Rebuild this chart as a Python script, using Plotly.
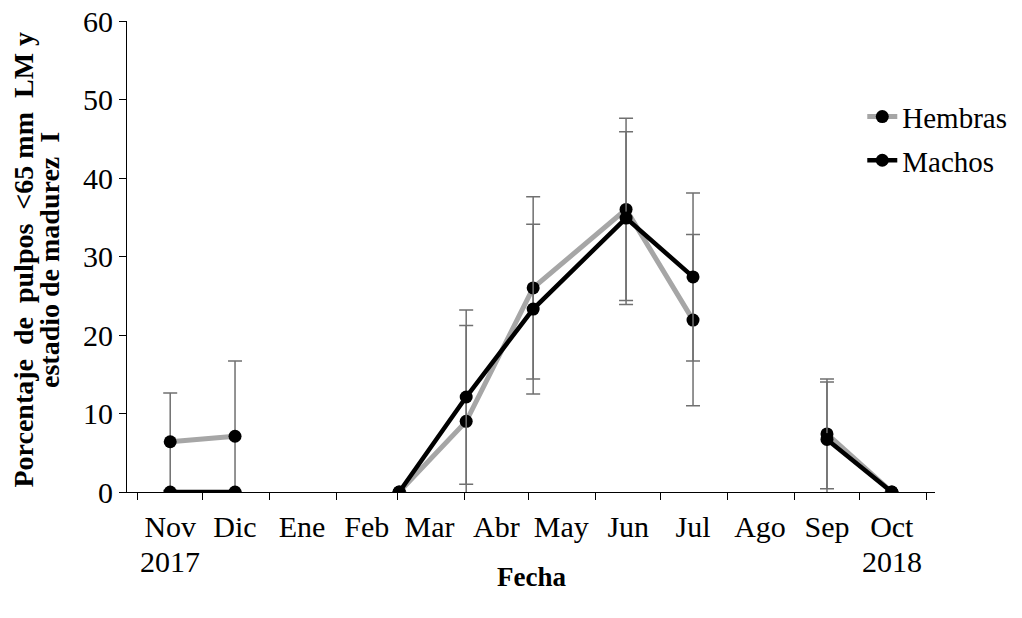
import plotly.graph_objects as go

# ---- data ----
month_labels = ["Nov", "Dic", "Ene", "Feb", "Mar", "Abr", "May", "Jun", "Jul", "Ago", "Sep", "Oct"]
month_mid = ["2017-11-16", "2017-12-16", "2018-01-16", "2018-02-15", "2018-03-16", "2018-04-16",
             "2018-05-16", "2018-06-16", "2018-07-16", "2018-08-16", "2018-09-16", "2018-10-16"]
month_start = ["2017-11-01", "2017-12-01", "2018-01-01", "2018-02-01", "2018-03-01", "2018-04-01",
               "2018-05-01", "2018-06-01", "2018-07-01", "2018-08-01", "2018-09-01", "2018-10-01",
               "2018-11-01"]
year_labels = ["2017", "2018"]
year_pos = ["2017-11-16", "2018-10-16"]

fechas = ["2017-11-16", "2017-12-16", "2018-01-15", "2018-02-15", "2018-03-02", "2018-04-02",
          "2018-05-03", "2018-06-15", "2018-07-16", "2018-08-15", "2018-09-16", "2018-10-16"]
hembras = [6.4, 7.1, None, None, 0, 9.0, 26.0, 36.0, 21.9, None, 7.4, 0]
hembras_err = [6.2, 9.6, None, None, None, 12.2, 11.6, 11.6, 10.9, None, 7.0, None]
machos = [0, 0, None, None, 0, 12.1, 23.3, 34.9, 27.4, None, 6.7, 0]
machos_err = [None, None, None, None, None, 11.1, 10.8, 11.0, 10.7, None, 7.3, None]

x_title = "<b>Fecha</b>"
y_title_1 = "<b>Porcentaje\u00a0 de\u00a0 pulpos\u00a0 &lt;65 mm\u00a0 LM y</b>"
y_title_2 = "<b>estadio de madurez\u00a0 I</b>"

FONT = "Liberation Serif, Times New Roman, serif"
ERR_COLOR = "#707070"

fig = go.Figure()
fig.add_trace(go.Scatter(
    x=fechas, y=hembras, name="Hembras", mode="lines+markers", legendgroup="h",
    line=dict(color="#A6A6A6", width=5),
    marker=dict(color="black", size=13),
    error_y=dict(type="data", array=hembras_err, visible=True, color=ERR_COLOR, thickness=1.5, width=7),
    connectgaps=False,
))
fig.add_trace(go.Scatter(
    x=fechas, y=machos, name="Machos", mode="lines+markers", legendgroup="m",
    line=dict(color="black", width=4.5),
    marker=dict(color="black", size=13),
    error_y=dict(type="data", array=machos_err, visible=True, color=ERR_COLOR, thickness=1.5, width=7),
    connectgaps=False,
))

annotations = [
    dict(text=x_title, xref="paper", yref="paper", x=0.5, y=-0.1805,
         xanchor="center", yanchor="middle", showarrow=False, font=dict(size=27)),
    dict(text=y_title_1, xref="paper", yref="paper", x=-0.128, y=0.4926, textangle=-90,
         xanchor="center", yanchor="middle", showarrow=False, font=dict(size=28)),
    dict(text=y_title_2, xref="paper", yref="paper", x=-0.0953, y=0.4926, textangle=-90,
         xanchor="center", yanchor="middle", showarrow=False, font=dict(size=28)),
]
for lab, pos in zip(year_labels, year_pos):
    annotations.append(dict(text=lab, xref="x", yref="paper", x=pos, y=-0.1486,
                            xanchor="center", yanchor="middle", showarrow=False, font=dict(size=30)))

fig.update_layout(
    width=1014, height=610,
    margin=dict(l=119, r=87, t=13, b=126, autoexpand=False),
    paper_bgcolor="white", plot_bgcolor="white",
    font=dict(family=FONT, size=30, color="black"),
    showlegend=True,
    legend=dict(x=0.91, y=0.851, xanchor="left", yanchor="top", traceorder="grouped",
                tracegroupgap=3, font=dict(size=29), bgcolor="rgba(0,0,0,0)"),
    xaxis=dict(
        type="date", range=["2017-10-27", "2018-11-05"], automargin=False,
        tickmode="array", tickvals=month_mid, ticktext=month_labels,
        ticks="outside", ticklen=8, tickcolor="rgba(0,0,0,0)", ticklabeloverflow="allow",
        showline=True, linecolor="black", linewidth=1, showgrid=False, zeroline=False,
        minor=dict(tickmode="array", tickvals=month_start, ticks="outside", ticklen=7,
                   tickcolor="black", tickwidth=1, showgrid=False),
    ),
    yaxis=dict(
        range=[0, 60], dtick=10, ticks="outside", ticklen=7, tickcolor="black", automargin=False,
        ticklabeloverflow="allow",
        showline=True, linecolor="black", linewidth=1, showgrid=False, zeroline=False,
    ),
    annotations=annotations,
)

fig.write_html("out.html")
